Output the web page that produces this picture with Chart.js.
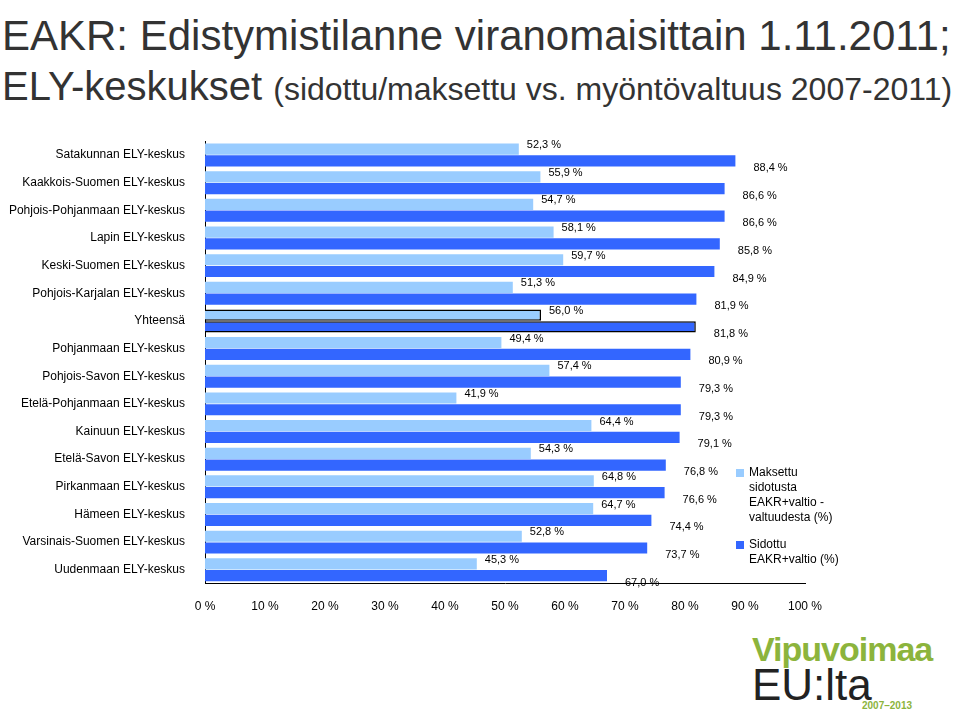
<!DOCTYPE html>
<html><head><meta charset="utf-8">
<script src="https://cdn.jsdelivr.net/npm/chart.js@4"></script>
<style>
body{margin:0;width:960px;height:712px;background:#fff;font-family:Arial,"Liberation Sans",sans-serif;position:relative;overflow:hidden}
#wrap{position:absolute;left:0;top:122px;width:960px;height:500px}
.t1{position:absolute;left:2px;top:12px;font-size:42px;color:#333;white-space:nowrap}
.t2{position:absolute;left:2px;top:64px;font-size:40px;color:#333;white-space:nowrap}
.t2 span{font-size:32px}
.leg{position:absolute;font-size:12px;color:#000;line-height:15px}
.sw{position:absolute;width:8px;height:8px}
</style></head><body>
<div class="t1">EAKR: Edistymistilanne viranomaisittain 1.11.2011;</div>
<div class="t2">ELY-keskukset <span>(sidottu/maksettu vs. myöntövaltuus 2007-2011)</span></div>
<div id="wrap"><canvas id="c"></canvas></div>
<div class="sw" style="left:736px;top:469px;background:#99ccff"></div>
<div class="leg" style="left:749px;top:465px">Maksettu<br>sidotusta<br>EAKR+valtio -<br>valtuudesta (%)</div>
<div class="sw" style="left:736px;top:541px;background:#3366ff"></div>
<div class="leg" style="left:749px;top:537px">Sidottu<br>EAKR+valtio (%)</div>
<div style="position:absolute;left:752px;top:630px;font:bold 34px Arial;color:#8cb43c;letter-spacing:-1px">Vipuvoimaa</div>
<div style="position:absolute;left:752px;top:660px;font:44px Arial;color:#222">EU:lta</div>
<div style="position:absolute;left:862px;top:700px;font:bold 10px Arial;color:#8cb43c">2007–2013</div>
<script>
"use strict";
const aLabels = ["Satakunnan ELY-keskus","Kaakkois-Suomen ELY-keskus","Pohjois-Pohjanmaan ELY-keskus","Lapin ELY-keskus","Keski-Suomen ELY-keskus","Pohjois-Karjalan ELY-keskus","Yhteensä","Pohjanmaan ELY-keskus","Pohjois-Savon ELY-keskus","Etelä-Pohjanmaan ELY-keskus","Kainuun ELY-keskus","Etelä-Savon ELY-keskus","Pirkanmaan ELY-keskus","Hämeen ELY-keskus","Varsinais-Suomen ELY-keskus","Uudenmaan ELY-keskus"];
const aMaksettu = [52.3,55.9,54.7,58.1,59.7,51.3,56.0,49.4,57.4,41.9,64.4,54.3,64.8,64.7,52.8,45.3];
const aSidottu = [88.4,86.6,86.6,85.8,84.9,81.9,81.8,80.9,79.3,79.3,79.1,76.8,76.6,74.4,73.7,67.0];
const aTicks = [0,10,20,30,40,50,60,70,80,90,100];
const iTotal = aLabels.indexOf("Yhteensä");

const fmt = v => v.toFixed(1).replace(".", ",") + " %";
const borders = aLabels.map((l, i) => i === iTotal ? 1.5 : 0);

const labelPlugin = {
  id: "valueLabels",
  afterDatasetsDraw(chart) {
    const ctx = chart.ctx;
    ctx.save();
    ctx.font = "11px Arial";
    ctx.fillStyle = "#000";
    ctx.textBaseline = "middle";
    chart.data.datasets.forEach((ds, di) => {
      chart.getDatasetMeta(di).data.forEach((bar, i) => {
        const dy = di === 0 ? -4 : 7;
        const dx = di === 0 ? 8 : 18;
        ctx.fillText(fmt(ds.data[i]), bar.x + dx, bar.y + dy);
      });
    });
    ctx.restore();
  }
};

new Chart(document.getElementById("c"), {
  type: "bar",
  data: {
    labels: aLabels,
    datasets: [
      { data: aMaksettu, backgroundColor: "#99ccff", borderColor: "#000", borderWidth: borders, borderSkipped: "left", categoryPercentage: 0.85, barPercentage: 0.95 },
      { data: aSidottu, backgroundColor: "#3366ff", borderColor: "#000", borderWidth: borders, borderSkipped: "left", categoryPercentage: 0.85, barPercentage: 0.95 }
    ]
  },
  options: {
    indexAxis: "y",
    responsive: true,
    maintainAspectRatio: false,
    animation: false,
    layout: { padding: { left: 0, right: 155, top: 4, bottom: 0 } },
    plugins: { legend: { display: false }, tooltip: { enabled: false } },
    scales: {
      x: {
        min: 0, max: 100,
        afterBuildTicks: ax => { ax.ticks = aTicks.map(v => ({ value: v })); },
        grid: { display: false, drawTicks: true },
        border: { color: "#000" },
        ticks: { callback: v => v + " %", color: "#000", font: { size: 12, family: "Arial" }, padding: 8 }
      },
      y: {
        grid: { display: false },
        border: { color: "#000" },
        afterFit: ax => { ax.width = 205; },
        ticks: { color: "#000", font: { size: 12, family: "Arial" }, padding: 12 }
      }
    }
  },
  plugins: [labelPlugin]
});
</script>
</body></html>
